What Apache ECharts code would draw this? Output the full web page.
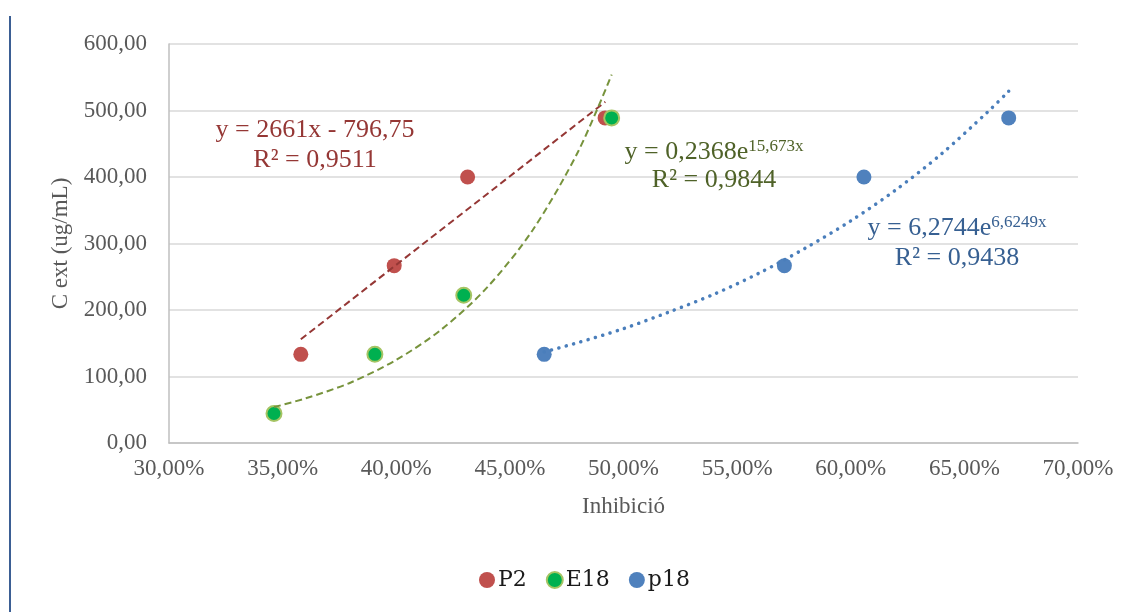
<!DOCTYPE html>
<html>
<head>
<meta charset="utf-8">
<script src="https://cdn.jsdelivr.net/npm/echarts@6/dist/echarts.min.js"></script>
<style>
	html, body { margin: 0; padding: 0; background: #fff; }
	#chart { width: 1131px; height: 612px; }
</style>
</head>
<body>
<div id="chart"></div>
<script>
// x: Inhibició (%), y: C ext (ug/mL)
var p2Points  = [[35.80, 133.3], [39.91, 266.7], [43.14, 400.0], [49.19, 488.9]];
var e18Points = [[34.62, 44.4], [39.06, 133.3], [42.97, 222.2], [49.48, 488.9]];
var p18Points = [[46.51, 133.3], [57.08, 266.7], [60.58, 400.0], [66.95, 488.9]];

// trendlines
var p2Trend  = [[35.80, 156], [49.20, 513]];
var e18Trend = [[34.62, 54], [36, 67], [38, 91], [40, 125], [42, 171], [44, 234], [46, 320], [48, 438], [49.48, 554]];
var p18Trend = [[46.51, 137], [48, 151], [50, 172], [52, 197], [54, 224], [56, 256], [58, 293], [60, 334], [62, 381], [64, 435], [66, 497], [66.95, 529]];

var xTicks = { min: 30, max: 70, step: 5 };
var yTicks = { min: 0, max: 600, step: 100 };

var FONT = '"Liberation Serif", "Times New Roman", serif';
var GREY = '#595959';

function eqText(x, y, color, main, sup) {
	var rich = {
		m: { fontSize: 26, fontFamily: FONT, fill: color, color: color, lineHeight: 28 },
		s: { fontSize: 17, fontFamily: FONT, fill: color, color: color, lineHeight: 28, verticalAlign: 'top', padding: [0, 0, 6, 0] }
	};
	var txt = '{m|' + main + '}';
	if (sup) txt += '{s|' + sup + '}';
	return {
		type: 'text', x: x, y: y, z: 100,
		style: { text: txt, rich: rich, fill: color, align: 'center', verticalAlign: 'middle' }
	};
}

var chart = echarts.init(document.getElementById('chart'));
chart.setOption({
	backgroundColor: '#fff',
	animation: false,
	grid: { left: 169, right: 53, top: 44, bottom: 169 },
	legend: {
		data: ['P2', 'E18', 'p18'],
		left: 474, top: 564,
		itemWidth: 16, itemHeight: 16, itemGap: 19,
		icon: 'circle',
		textStyle: { fontFamily: '"DejaVu Serif", serif', fontSize: 22, color: '#1a1a1a', padding: [0, 0, 0, -2] }
	},
	xAxis: {
		type: 'value', min: xTicks.min, max: xTicks.max, interval: xTicks.step,
		name: 'Inhibició', nameLocation: 'middle', nameGap: 52,
		nameTextStyle: { fontFamily: FONT, fontSize: 23, color: GREY },
		axisLine: { show: true, lineStyle: { color: '#bfbfbf', width: 1.5 } },
		axisTick: { show: false },
		axisLabel: {
			fontFamily: FONT, fontSize: 23, color: GREY, margin: 14,
			formatter: function (v) { return v.toFixed(2).replace('.', ',') + '%'; }
		},
		splitLine: { show: false }
	},
	yAxis: {
		type: 'value', min: yTicks.min, max: yTicks.max, interval: yTicks.step,
		name: 'C ext (ug/mL)', nameLocation: 'middle', nameGap: 97, nameRotate: 90,
		nameTextStyle: { fontFamily: FONT, fontSize: 23, color: GREY },
		axisLine: { show: true, lineStyle: { color: '#bfbfbf', width: 1.5 } },
		axisTick: { show: false },
		axisLabel: {
			fontFamily: FONT, fontSize: 23, color: GREY, margin: 22,
			formatter: function (v) { return v.toFixed(2).replace('.', ','); }
		},
		splitLine: { show: true, lineStyle: { color: '#d9d9d9', width: 1.5 } }
	},
	series: [
		{
			name: 'P2', type: 'scatter', symbolSize: 15, z: 3,
			itemStyle: { color: '#c0504d', opacity: 1 },
			data: p2Points
		},
		{
			name: 'E18', type: 'scatter', symbolSize: 15, z: 3,
			itemStyle: { color: '#00b050', borderColor: '#a5c463', borderWidth: 2, opacity: 1 },
			data: e18Points
		},
		{
			name: 'p18', type: 'scatter', symbolSize: 15, z: 3,
			itemStyle: { color: '#4f81bd', opacity: 1 },
			data: p18Points
		},
		{
			name: 'P2 trend', type: 'line', showSymbol: false, silent: true, z: 4,
			lineStyle: { color: '#953735', width: 2, type: [7, 4] },
			data: p2Trend
		},
		{
			name: 'E18 trend', type: 'line', showSymbol: false, silent: true, smooth: 0.3, z: 4,
			lineStyle: { color: '#77933c', width: 2, type: [7, 4] },
			data: e18Trend
		},
		{
			name: 'p18 trend', type: 'line', showSymbol: false, silent: true, smooth: 0.3, z: 4,
			lineStyle: { color: '#4a7ebb', width: 3.5, type: [0.1, 7.5], cap: 'round' },
			data: p18Trend
		}
	],
	graphic: [
		{ type: 'rect', shape: { x: 9, y: 16, width: 2, height: 600 }, style: { fill: '#3b5e94' } },
		eqText(315, 130, '#953735', 'y = 2661x - 796,75'),
		eqText(315, 160, '#953735', 'R² = 0,9511'),
		eqText(714, 152, '#4f6228', 'y = 0,2368e', '15,673x'),
		eqText(714, 180, '#4f6228', 'R² = 0,9844'),
		eqText(957, 228, '#376092', 'y = 6,2744e', '6,6249x'),
		eqText(957, 258, '#376092', 'R² = 0,9438')
	]
});
</script>
</body>
</html>
